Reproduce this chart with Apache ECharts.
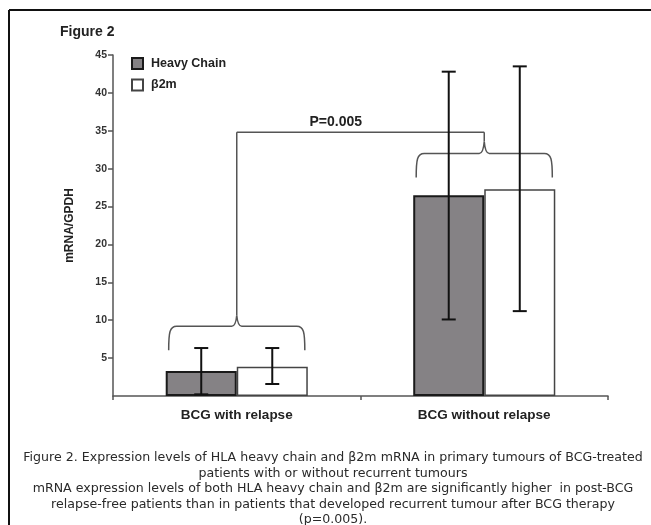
<!DOCTYPE html>
<html><head><meta charset="utf-8">
<script src="https://cdn.jsdelivr.net/npm/echarts@6/dist/echarts.min.js"></script>
<style>html,body{margin:0;padding:0;background:#fff}#c{width:651px;height:525px}</style>
</head><body><div id="c"></div>
<script>
// ---- data ----
const categories = ['BCG with relapse', 'BCG without relapse'];
const seriesNames = ['Heavy Chain', 'β2m'];
const heavyChain = [3.3, 26.5];
const beta2m = [3.87, 27.3];
const heavyChainLow = [0.22, 10.1];
const heavyChainHigh = [6.33, 42.8];
const beta2mLow = [1.58, 11.2];
const beta2mHigh = [6.33, 43.5];
const yMin = 0, yMax = 45, yStep = 5;
const braceLevels = [9.2, 32.0];
const pLevel = 34.8;
const pLabel = 'P=0.005';
const titleText = 'Figure 2';
const yAxisName = 'mRNA/GPDH';
const captionLines = [
  'Figure 2. Expression levels of HLA heavy chain and β2m mRNA in primary tumours of BCG-treated',
  'patients with or without recurrent tumours',
  'mRNA expression levels of both HLA heavy chain and β2m are significantly higher  in post-BCG',
  'relapse-free patients than in patients that developed recurrent tumour after BCG therapy',
  '(p=0.005).'
];

// ---- styling ----
const FONT = '"Liberation Sans", Arial, Helvetica, sans-serif';
const BAR_FRAC = 0.287;   // bar width as fraction of category band
const AXIS_COLOR = '#555';

const chart = echarts.init(document.getElementById('c'), null, {renderer: 'canvas'});

function errorRender(sign) {
  return function (params, api) {
    const band = api.size([1, 0])[0];
    const off = sign * band * BAR_FRAC / 2;
    const lo = api.coord([api.value(0), api.value(1)]);
    const hi = api.coord([api.value(0), api.value(2)]);
    const x = lo[0] + off;
    const cap = 7;
    const st = {stroke: '#111', lineWidth: 2};
    return {type: 'group', children: [
      {type: 'line', shape: {x1: x, y1: hi[1], x2: x, y2: lo[1]}, style: st},
      {type: 'line', shape: {x1: x - cap, y1: hi[1], x2: x + cap, y2: hi[1]}, style: st},
      {type: 'line', shape: {x1: x - cap, y1: lo[1], x2: x + cap, y2: lo[1]}, style: st}
    ]};
  };
}

function bracePath(cx, by, hw, d, t) {
  return 'M' + (cx - hw) + ' ' + (by + d) +
    ' C' + (cx - hw) + ' ' + (by + 6) + ' ' + (cx - hw + 1) + ' ' + by + ' ' + (cx - hw + 8) + ' ' + by +
    ' L' + (cx - 5) + ' ' + by +
    ' Q' + (cx - 1) + ' ' + by + ' ' + cx + ' ' + (by - t) +
    ' Q' + (cx + 1) + ' ' + by + ' ' + (cx + 5) + ' ' + by +
    ' L' + (cx + hw - 8) + ' ' + by +
    ' C' + (cx + hw - 1) + ' ' + by + ' ' + (cx + hw) + ' ' + (by + 6) + ' ' + (cx + hw) + ' ' + (by + d);
}

function sigRender(params, api) {
  const band = api.size([1, 0])[0];
  const hw = band * 0.275;
  const st = {stroke: '#555', lineWidth: 1.5, fill: null};
  const p0 = api.coord([0, pLevel]);
  const p1 = api.coord([1, pLevel]);
  const children = [];
  braceLevels.forEach(function (lv, i) {
    const c = api.coord([i, lv]);
    const tip = i === 0 ? 11 : 12;
    children.push({type: 'path', shape: {pathData: bracePath(c[0], c[1], hw, 24, tip)}, style: st});
    children.push({type: 'line', shape: {x1: c[0], y1: p0[1], x2: c[0], y2: c[1] - tip}, style: st});
  });
  children.push({type: 'line', shape: {x1: p0[0], y1: p0[1], x2: p1[0], y2: p1[1]}, style: st});
  children.push({type: 'text', style: {
    text: pLabel, x: p0[0] + (p1[0] - p0[0]) * 0.4, y: p0[1] - 3,
    align: 'center', verticalAlign: 'bottom',
    font: 'bold 14px ' + FONT, fill: '#222'
  }});
  return {type: 'group', children: children};
}

const captionGraphics = captionLines.map(function (line, i) {
  return {type: 'text', x: 333, y: 458 + i * 15.5,
    style: {text: line, align: 'center', verticalAlign: 'middle',
      font: '12.6px "DejaVu Sans", Verdana, sans-serif', fill: '#2a2a2a'}};
});

const option = {
  animation: false,
  backgroundColor: '#fff',
  title: {text: titleText, left: 60, top: 25, padding: 0,
    textStyle: {fontFamily: FONT, fontWeight: 'bold', fontSize: 14, color: '#222'}},
  legend: {
    data: seriesNames, orient: 'vertical', left: 131, top: 57, padding: 0,
    itemWidth: 11, itemHeight: 11, itemGap: 8.5, icon: 'rect',
    textStyle: {fontFamily: FONT, fontWeight: 'bold', fontSize: 12.5, color: '#222', padding: [0, 0, 0, 3]}
  },
  grid: {left: 113, right: 43, top: 55, bottom: 129, containLabel: false, outerBoundsMode: 'none'},
  xAxis: {
    type: 'category', data: categories, boundaryGap: true,
    axisLine: {lineStyle: {color: AXIS_COLOR, width: 1.5}},
    axisTick: {show: true, length: 4, interval: 0,
      lineStyle: {color: AXIS_COLOR, width: 1.5}},
    axisLabel: {margin: 12, fontFamily: FONT, fontWeight: 'bold', fontSize: 13.5, color: '#222'}
  },
  yAxis: {
    type: 'value', min: yMin, max: yMax, interval: yStep,
    name: yAxisName, nameLocation: 'middle', nameGap: 37, nameRotate: 90,
    nameTextStyle: {fontFamily: FONT, fontWeight: 'bold', fontSize: 12, color: '#222'},
    axisLine: {show: true, lineStyle: {color: AXIS_COLOR, width: 1.5}},
    axisTick: {show: true, length: 5, lineStyle: {color: AXIS_COLOR, width: 1.5}},
    splitLine: {show: false},
    axisLabel: {margin: 6, showMinLabel: false, fontFamily: FONT, fontWeight: 'bold', fontSize: 10.5, color: '#333'}
  },
  series: [
    {name: seriesNames[0], type: 'bar', data: heavyChain, barWidth: (BAR_FRAC * 100) + '%', barGap: '0%',
      itemStyle: {color: '#858285', borderColor: '#1a1a1a', borderWidth: 2}},
    {name: seriesNames[1], type: 'bar', data: beta2m, barWidth: (BAR_FRAC * 100) + '%', barGap: '0%',
      itemStyle: {color: '#ffffff', borderColor: '#444', borderWidth: 1.5}},
    {type: 'custom', name: 'hcErr', renderItem: errorRender(-1), z: 5,
      encode: {x: 0, y: [1, 2]},
      data: categories.map(function (c, i) { return [i, heavyChainLow[i], heavyChainHigh[i]]; })},
    {type: 'custom', name: 'b2mErr', renderItem: errorRender(1), z: 5,
      encode: {x: 0, y: [1, 2]},
      data: categories.map(function (c, i) { return [i, beta2mLow[i], beta2mHigh[i]]; })},
    {type: 'custom', name: 'sig', renderItem: sigRender, z: 4, silent: true,
      encode: {x: 0, y: 1}, data: [[0, pLevel]]}
  ],
  graphic: [
    {type: 'line', shape: {x1: 9, y1: 10, x2: 651, y2: 10}, style: {stroke: '#111', lineWidth: 2}},
    {type: 'line', shape: {x1: 9, y1: 10, x2: 9, y2: 525}, style: {stroke: '#111', lineWidth: 2}}
  ].concat(captionGraphics)
};
chart.setOption(option);
</script>
</body></html>
